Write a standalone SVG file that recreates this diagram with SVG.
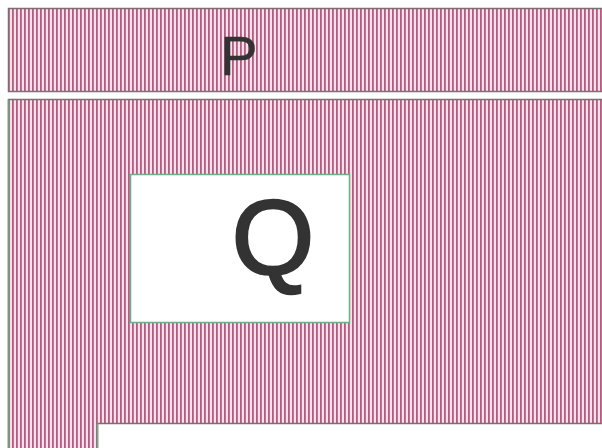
<svg xmlns="http://www.w3.org/2000/svg" width="602" height="448" viewBox="0 0 602 448">
<defs>
<pattern id="stripes" patternUnits="userSpaceOnUse" x="0" y="0" width="4" height="10">
<rect width="4" height="10" fill="#fae0ea"/>
<rect width="1.8" height="10" fill="#b55a82"/>
</pattern>
</defs>
<style>
.lbl{font-family:"Liberation Sans",Arial,sans-serif;fill:#333333;stroke:#333333;text-anchor:middle}
</style>
<rect width="602" height="448" fill="#ffffff"/>
<g id="P">
<rect x="8.5" y="8.5" width="600" height="83" fill="url(#stripes)" stroke="#7d6e70" stroke-width="1.5"/>
<text class="lbl" x="239" y="75" font-size="56" stroke-width="0.3">P</text>
</g>
<g id="outer">
<rect x="8.5" y="99.5" width="600" height="360" fill="url(#stripes)" stroke="#7d6e70" stroke-width="1.5"/>
<line x1="8.5" y1="99.5" x2="8.5" y2="448" stroke="#5fa873" stroke-width="1.5"/>
</g>
<g id="Q">
<rect x="130.5" y="174.5" width="219" height="148" fill="#ffffff" stroke="#6fae80" stroke-width="1.5"/>
<text class="lbl" x="273" y="274" font-size="106" stroke-width="2.5">Q</text>
</g>
<g id="bottom">
<rect x="97.5" y="423.5" width="510" height="40" fill="#ffffff" stroke="#7d6e70" stroke-width="1.5"/>
<line x1="97.5" y1="423.5" x2="97.5" y2="448" stroke="#6fae80" stroke-width="1.5"/>
</g>
<g id="connectors"/>
</svg>
